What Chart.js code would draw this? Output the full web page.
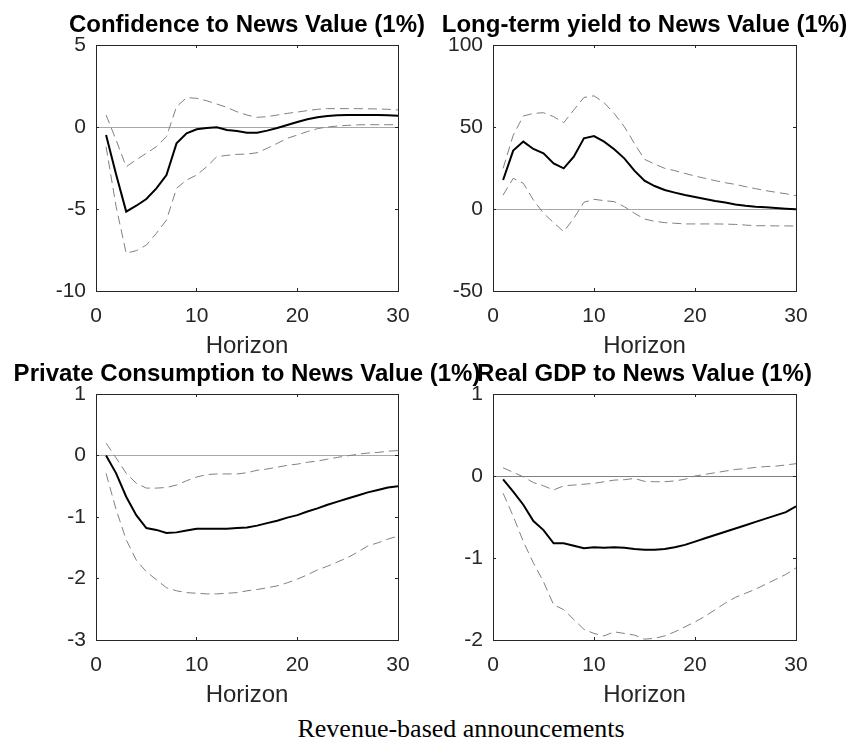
<!DOCTYPE html>
<html>
<head>
<meta charset="utf-8">
<script src="https://cdn.jsdelivr.net/npm/chart.js@4.4.1/dist/chart.umd.min.js"></script>
<style>
  html, body { margin: 0; padding: 0; background: #fff; overflow: hidden; }
  body { width: 853px; height: 749px; position: relative; }
  canvas { position: absolute; }
  #caption {
    position: absolute; left: 461px; top: 714px; transform: translateX(-50%);
    font-family: "Liberation Serif", serif; font-size: 26px; line-height: 30px;
    white-space: nowrap; color: #000;
  }
</style>
</head>
<body>
<canvas id="conf" width="442" height="355" style="left:26px;top:6px"></canvas>
<canvas id="yield" width="443" height="355" style="left:423px;top:6px"></canvas>
<canvas id="cons" width="482" height="355" style="left:6px;top:355px"></canvas>
<canvas id="gdp" width="443" height="355" style="left:423px;top:355px"></canvas>
<div id="caption">Revenue-based announcements</div>
<script>
horizons = [1,2,3,4,5,6,7,8,9,10,11,12,13,14,15,16,17,18,19,20,21,22,23,24,25,26,27,28,29,30]

// Confidence
confMean  = [-0.49,-2.9,-5.16,-4.8,-4.39,-3.74,-2.93,-1.0,-0.39,-0.14,-0.06,-0.02,-0.18,-0.24,-0.35,-0.35,-0.22,-0.06,0.12,0.3,0.47,0.59,0.67,0.71,0.73,0.73,0.73,0.73,0.72,0.69]
confUpper = [0.73,-0.8,-2.42,-2.0,-1.6,-1.2,-0.59,1.24,1.79,1.75,1.6,1.4,1.2,0.93,0.73,0.59,0.63,0.73,0.83,0.91,1.0,1.08,1.12,1.12,1.12,1.12,1.11,1.1,1.08,1.04]
confLower = [-1.2,-4.86,-7.7,-7.54,-7.2,-6.48,-5.67,-3.74,-3.23,-2.93,-2.42,-1.81,-1.73,-1.67,-1.65,-1.57,-1.3,-1.0,-0.69,-0.49,-0.28,-0.1,0.0,0.06,0.1,0.13,0.14,0.14,0.14,0.14]

// Long-term yield
yieldMean  = [17.7,35.6,41.1,36.6,34,27.8,24.8,31.9,43.1,44.5,41.1,36.4,30.9,23.4,17.3,14,11.6,10,8.5,7.3,6.1,4.9,3.9,2.8,2,1.4,1,0.6,0.2,-0.2]
yieldUpper = [24.8,45,56.7,58.3,58.7,56.3,52.6,60.4,68,69,64.8,58.3,50.2,40,30.3,27.4,24.8,23.4,21.7,20.1,18.7,17.3,16,15,13.6,12.4,11.2,10.2,9.3,8.1]
yieldLower = [8.5,18.7,15.7,5.5,-2.6,-8.3,-13.8,-5.7,4.1,5.9,5.1,4.5,1.4,-2.6,-6.1,-7.5,-8.3,-8.7,-9.1,-9.1,-9.1,-9.1,-9.2,-9.4,-9.8,-10.2,-10.2,-10.3,-10.3,-10.4]

// Private consumption
consMean  = [0,-0.29,-0.67,-0.97,-1.18,-1.21,-1.26,-1.25,-1.22,-1.19,-1.19,-1.19,-1.19,-1.18,-1.17,-1.14,-1.1,-1.06,-1.01,-0.97,-0.91,-0.86,-0.8,-0.75,-0.7,-0.65,-0.6,-0.56,-0.52,-0.5]
consUpper = [0.2,-0.04,-0.29,-0.45,-0.53,-0.53,-0.52,-0.48,-0.41,-0.35,-0.31,-0.3,-0.3,-0.3,-0.28,-0.24,-0.22,-0.19,-0.16,-0.14,-0.11,-0.09,-0.06,-0.03,-0.005,0.02,0.04,0.05,0.07,0.08]
consLower = [-0.29,-0.88,-1.37,-1.7,-1.89,-2.02,-2.15,-2.2,-2.23,-2.24,-2.25,-2.25,-2.24,-2.23,-2.2,-2.18,-2.15,-2.12,-2.07,-2.01,-1.94,-1.86,-1.8,-1.73,-1.66,-1.57,-1.47,-1.42,-1.36,-1.31]

// Real GDP
gdpMean  = [-0.04,-0.19,-0.35,-0.55,-0.66,-0.82,-0.82,-0.85,-0.88,-0.87,-0.875,-0.87,-0.875,-0.89,-0.9,-0.9,-0.89,-0.87,-0.84,-0.8,-0.76,-0.72,-0.68,-0.64,-0.6,-0.56,-0.52,-0.48,-0.44,-0.37]
gdpUpper = [0.1,0.045,-0.01,-0.08,-0.12,-0.17,-0.12,-0.11,-0.1,-0.09,-0.07,-0.05,-0.045,-0.03,-0.065,-0.07,-0.07,-0.06,-0.04,0,0.02,0.04,0.06,0.08,0.09,0.105,0.115,0.12,0.135,0.15]
gdpLower = [-0.21,-0.49,-0.8,-1.06,-1.29,-1.57,-1.63,-1.75,-1.87,-1.92,-1.95,-1.9,-1.92,-1.94,-1.99,-1.98,-1.95,-1.9,-1.84,-1.78,-1.71,-1.63,-1.55,-1.48,-1.43,-1.38,-1.32,-1.26,-1.2,-1.12]

xTicks = [0, 30, 10]   // min, max, step

axisCol = '#262626'
sans = "'Liberation Sans', Arial, sans-serif"

function pts(arr) {
  return arr.map((v, i) => ({x: horizons[i], y: v}))
}

function panel(id, title, mean, upper, lower, yMin, yMax, yStep, side, zeroCol) {
  var band = {borderColor: '#808080', borderWidth: 1, borderDash: [9, 5], pointRadius: 0, tension: 0, xAxisID: 'x', yAxisID: 'y'}
  var boxGrid = {drawOnChartArea: false, tickLength: -3, tickColor: axisCol, color: axisCol}
  return new Chart(document.getElementById(id), {
    type: 'line',
    data: {
      datasets: [
        Object.assign({data: pts(upper)}, band),
        Object.assign({data: pts(lower)}, band),
        {data: pts(mean), borderColor: '#000', borderWidth: 2, pointRadius: 0, tension: 0, xAxisID: 'x', yAxisID: 'y'}
      ]
    },
    options: {
      responsive: false,
      animation: false,
      devicePixelRatio: 1,
      layout: {padding: 0},
      events: [],
      plugins: {
        legend: {display: false},
        tooltip: {enabled: false},
        title: {
          display: true, text: title, color: '#000',
          font: {family: sans, size: 24, weight: 'bold', lineHeight: 1.25},
          padding: {top: 4, bottom: 5}
        }
      },
      scales: {
        x: {
          type: 'linear', position: 'bottom', min: xTicks[0], max: xTicks[1],
          ticks: {stepSize: xTicks[2], font: {family: sans, size: 21}, color: axisCol, padding: 15.4, maxRotation: 0},
          grid: boxGrid,
          border: {color: axisCol, width: 1},
          title: {display: true, text: 'Horizon', font: {family: sans, size: 24}, color: axisCol, padding: 0},
          afterFit: s => { s.height = 70 }
        },
        xTop: {
          type: 'linear', position: 'top', min: xTicks[0], max: xTicks[1],
          ticks: {stepSize: xTicks[2], display: false},
          grid: boxGrid,
          border: {color: axisCol, width: 1},
          afterFit: s => { s.height = 0 }
        },
        y: {
          type: 'linear', position: 'left', min: yMin, max: yMax,
          ticks: {stepSize: yStep, font: {family: sans, size: 21}, color: axisCol, padding: 13},
          grid: {
            drawOnChartArea: true, tickLength: -3, tickColor: axisCol,
            color: c => (c.tick && c.tick.value === 0) ? zeroCol : 'rgba(0,0,0,0)'
          },
          border: {color: axisCol, width: 1},
          afterFit: s => { s.width = side }
        },
        yRight: {
          type: 'linear', position: 'right', min: yMin, max: yMax,
          ticks: {stepSize: yStep, display: false},
          grid: boxGrid,
          border: {color: axisCol, width: 1},
          afterFit: s => { s.width = side }
        }
      }
    }
  })
}

panel('conf', 'Confidence to News Value (1%)', confMean, confUpper, confLower, -10, 5, 5, 70, '#a8a8a8')
panel('yield', 'Long-term yield to News Value (1%)', yieldMean, yieldUpper, yieldLower, -50, 100, 50, 70, '#a8a8a8')
panel('cons', 'Private Consumption to News Value (1%)', consMean, consUpper, consLower, -3, 1, 1, 90, '#a8a8a8')
panel('gdp', 'Real GDP to News Value (1%)', gdpMean, gdpUpper, gdpLower, -2, 1, 1, 70, '#808080')
</script>
</body>
</html>
